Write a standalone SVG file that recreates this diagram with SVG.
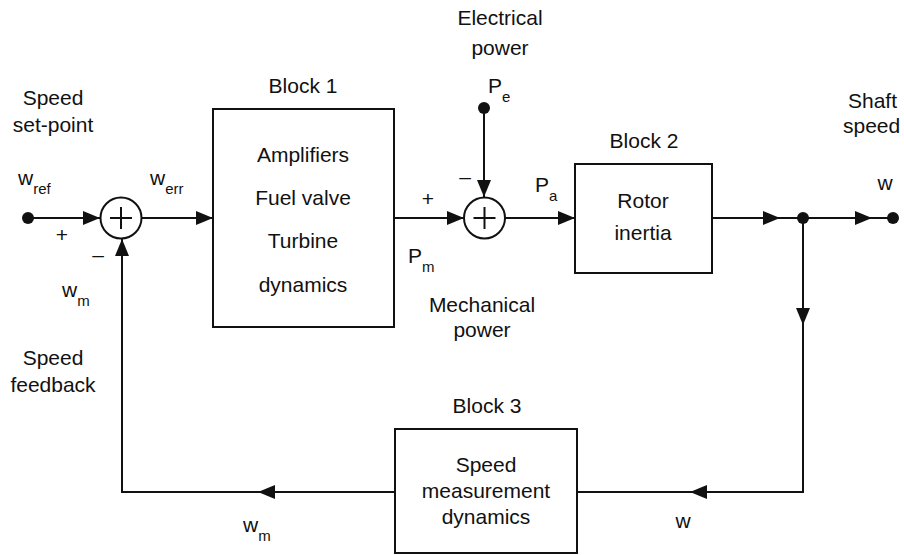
<svg xmlns="http://www.w3.org/2000/svg" width="904" height="555" viewBox="0 0 904 555">
<style>
.t{font-family:"Liberation Sans",Arial,sans-serif;font-size:21px;fill:#111;}
.s{font-size:15px;}
.box{fill:none;stroke:#111;stroke-width:2;}
.ln{fill:none;stroke:#111;stroke-width:2;}
.arr{fill:none;stroke:#111;stroke-width:2;marker-end:url(#ah);}
.dot{fill:#111;}
</style>
<defs>
<marker id="ah" markerUnits="userSpaceOnUse" markerWidth="18" markerHeight="14" refX="17" refY="7" orient="auto">
<path d="M0,0 L17,7 L0,14 z" fill="#111"/>
</marker>
</defs>
<rect width="904" height="555" fill="#fff"/>

<g id="connectors">
<line class="arr" x1="28" y1="218" x2="100" y2="218"/>
<line class="arr" x1="141" y1="218" x2="213" y2="218"/>
<line class="arr" x1="394" y1="218" x2="464" y2="218"/>
<line class="arr" x1="484" y1="108" x2="484" y2="197"/>
<line class="arr" x1="505" y1="218" x2="575" y2="218"/>
<line class="arr" x1="712" y1="218" x2="780" y2="218"/>
<line class="ln" x1="778" y1="218" x2="803" y2="218"/>
<line class="arr" x1="803" y1="218" x2="872" y2="218"/>
<line class="ln" x1="870" y1="218" x2="893" y2="218"/>
<line class="arr" x1="803" y1="218" x2="803" y2="325"/>
<polyline class="ln" points="803,323 803,492 688,492"/>
<line class="arr" x1="803" y1="492" x2="690" y2="492"/>
<line class="ln" x1="692" y1="492" x2="577" y2="492"/>
<line class="arr" x1="395" y1="492" x2="258" y2="492"/>
<polyline class="ln" points="260,492 122,492 122,262"/>
<line class="arr" x1="122" y1="300" x2="122" y2="239"/>
<circle class="dot" cx="28" cy="218" r="6"/>
<circle class="dot" cx="484" cy="108" r="6"/>
<circle class="dot" cx="803" cy="218" r="6"/>
<circle class="dot" cx="893" cy="218" r="6"/>
</g>

<g id="sum1">
<circle class="box" cx="121" cy="218" r="20.5"/>
<line class="ln" x1="110" y1="218" x2="132" y2="218"/>
<line class="ln" x1="121" y1="207" x2="121" y2="229"/>
</g>

<g id="sum2">
<circle class="box" cx="484.5" cy="218" r="20.5"/>
<line class="ln" x1="473.5" y1="218" x2="495.5" y2="218"/>
<line class="ln" x1="484.5" y1="207" x2="484.5" y2="229"/>
</g>

<g id="block1">
<rect class="box" x="213" y="109" width="181" height="218"/>
<text class="t" x="303" y="93" text-anchor="middle">Block 1</text>
<text class="t" x="303" y="162" text-anchor="middle">Amplifiers</text>
<text class="t" x="303" y="205" text-anchor="middle">Fuel valve</text>
<text class="t" x="303" y="248" text-anchor="middle">Turbine</text>
<text class="t" x="303" y="292" text-anchor="middle">dynamics</text>
</g>

<g id="block2">
<rect class="box" x="575" y="164" width="137" height="109"/>
<text class="t" x="644" y="148" text-anchor="middle">Block 2</text>
<text class="t" x="643" y="208" text-anchor="middle">Rotor</text>
<text class="t" x="643" y="240" text-anchor="middle">inertia</text>
</g>

<g id="block3">
<rect class="box" x="395" y="429" width="182" height="124"/>
<text class="t" x="487" y="413" text-anchor="middle">Block 3</text>
<text class="t" x="486" y="472" text-anchor="middle">Speed</text>
<text class="t" x="486" y="498" text-anchor="middle">measurement</text>
<text class="t" x="486" y="524" text-anchor="middle">dynamics</text>
</g>

<g id="labels">
<text class="t" x="53" y="105" text-anchor="middle">Speed</text>
<text class="t" x="53" y="132" text-anchor="middle">set-point</text>
<text class="t" x="18" y="185">w<tspan class="s" dy="9">ref</tspan></text>
<text class="t" x="62" y="242" text-anchor="middle">+</text>
<text class="t" x="98" y="262" text-anchor="middle">–</text>
<text class="t" x="62" y="297">w<tspan class="s" dy="9">m</tspan></text>
<text class="t" x="53" y="365" text-anchor="middle">Speed</text>
<text class="t" x="53" y="392" text-anchor="middle">feedback</text>
<text class="t" x="150" y="185">w<tspan class="s" dy="9">err</tspan></text>
<text class="t" x="500" y="25" text-anchor="middle">Electrical</text>
<text class="t" x="500" y="55" text-anchor="middle">power</text>
<text class="t" x="488" y="93">P<tspan class="s" dy="9">e</tspan></text>
<text class="t" x="465" y="184" text-anchor="middle">–</text>
<text class="t" x="428" y="206" text-anchor="middle">+</text>
<text class="t" x="535" y="192">P<tspan class="s" dy="9">a</tspan></text>
<text class="t" x="408" y="263">P<tspan class="s" dy="9">m</tspan></text>
<text class="t" x="482" y="312" text-anchor="middle">Mechanical</text>
<text class="t" x="482" y="337" text-anchor="middle">power</text>
<text class="t" x="848" y="108">Shaft</text>
<text class="t" x="843" y="133">speed</text>
<text class="t" x="885" y="190" text-anchor="middle">w</text>
<text class="t" x="683" y="528" text-anchor="middle">w</text>
<text class="t" x="243" y="532">w<tspan class="s" dy="9">m</tspan></text>
</g>
</svg>
